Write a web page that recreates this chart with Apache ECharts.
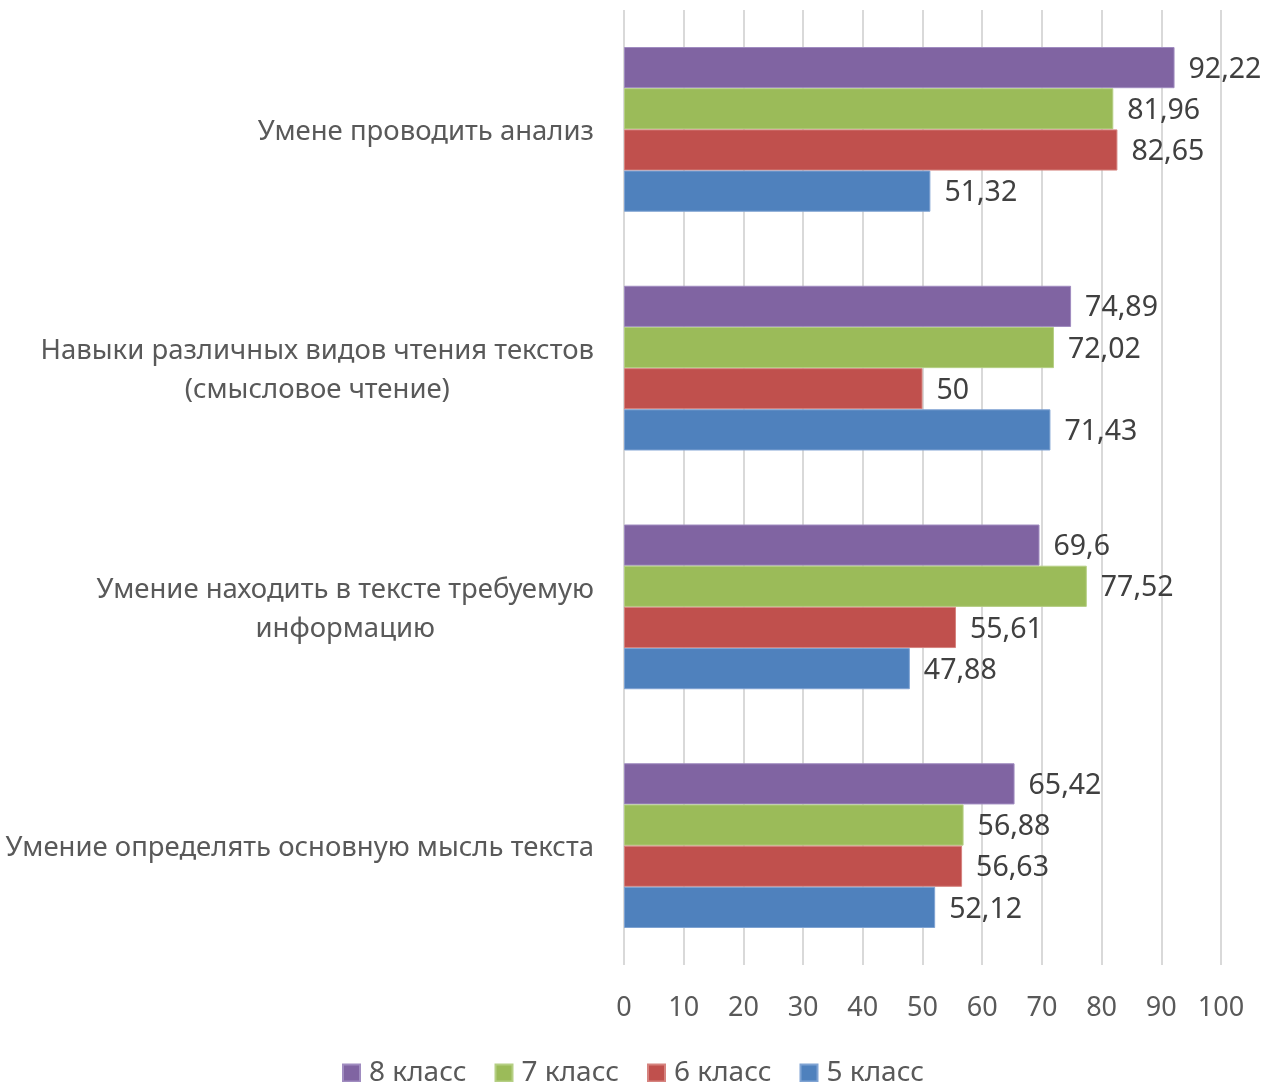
<!DOCTYPE html>
<html>
<head>
<meta charset="utf-8">
<script src="https://cdn.jsdelivr.net/npm/echarts@6/dist/echarts.min.js"></script>
<style>
  html, body { margin: 0; padding: 0; background: #fff; }
  #chart { width: 1266px; height: 1082px; }
</style>
</head>
<body>
<div id="chart"></div>
<script>
// категории снизу вверх (ось Y в ECharts идёт снизу)
const categories = [
  'Умение определять основную мысль текста',
  'Умение находить в тексте требуемую\nинформацию',
  'Навыки различных видов чтения текстов\n(смысловое чтение)',
  'Умене проводить анализ'
]
const seriesNames = ['8 класс', '7 класс', '6 класс', '5 класс']
const grade8 = [65.42, 69.6, 74.89, 92.22]
const grade7 = [56.88, 77.52, 72.02, 81.96]
const grade6 = [56.63, 55.61, 50, 82.65]
const grade5 = [52.12, 47.88, 71.43, 51.32]
const xTicks = [0, 10, 20, 30, 40, 50, 60, 70, 80, 90, 100]

const colors = ['#8064A2', '#9BBB59', '#C0504D', '#4F81BD']
const borders = ['#a08cc0', '#b5cf84', '#d6837f', '#7fa3d3']
const textColor = '#595959'
const fontFamily = 'Noto Sans, Open Sans, sans-serif'

const chart = echarts.init(document.getElementById('chart'))

const values = [grade8, grade7, grade6, grade5]
const series = values.map((data, i) => ({
  name: seriesNames[i],
  type: 'bar',
  data: data,
  barGap: '0%',
  barCategoryGap: '31%',
  itemStyle: { color: colors[i], borderColor: borders[i], borderWidth: 1 },
  label: {
    show: true,
    position: 'right',
    distance: 14,
    offset: [0, 2],
    color: '#404040',
    fontSize: 28.5,
    fontFamily: fontFamily,
    formatter: p => String(p.value).replace('.', ',')
  }
}))

chart.setOption({
  animation: false,
  color: colors,
  grid: { left: 624, right: 45, top: 10, bottom: 117, containLabel: false },
  legend: {
    data: seriesNames,
    top: 1054,
    left: 'center',
    icon: 'rect',
    itemWidth: 17,
    itemHeight: 17,
    itemGap: 28,
    textStyle: { color: textColor, fontSize: 28, fontFamily: fontFamily, padding: [0, 0, 0, 4] }
  },
  xAxis: {
    type: 'value',
    min: 0,
    max: 100,
    interval: 10,
    axisLine: { show: false },
    axisTick: { show: false },
    splitLine: { lineStyle: { color: '#d9d9d9', width: 2 } },
    axisLabel: {
      color: textColor,
      fontSize: 27,
      fontFamily: fontFamily,
      margin: 30,
      formatter: v => xTicks.indexOf(v) >= 0 ? String(v) : ''
    }
  },
  yAxis: {
    type: 'category',
    data: categories,
    axisLine: { show: false },
    axisTick: { show: false },
    axisLabel: {
      color: textColor,
      fontSize: 27.5,
      fontFamily: fontFamily,
      margin: 30,
      lineHeight: 39,
      padding: [5, 0, 0, 0],
      formatter: v => v.split('\n').map(s => '{c|' + s + '}').join('\n'),
      rich: { c: { align: 'center', color: textColor, fontSize: 27.5, fontFamily: fontFamily, lineHeight: 39 } }
    }
  },
  series: series
})
</script>
</body>
</html>
